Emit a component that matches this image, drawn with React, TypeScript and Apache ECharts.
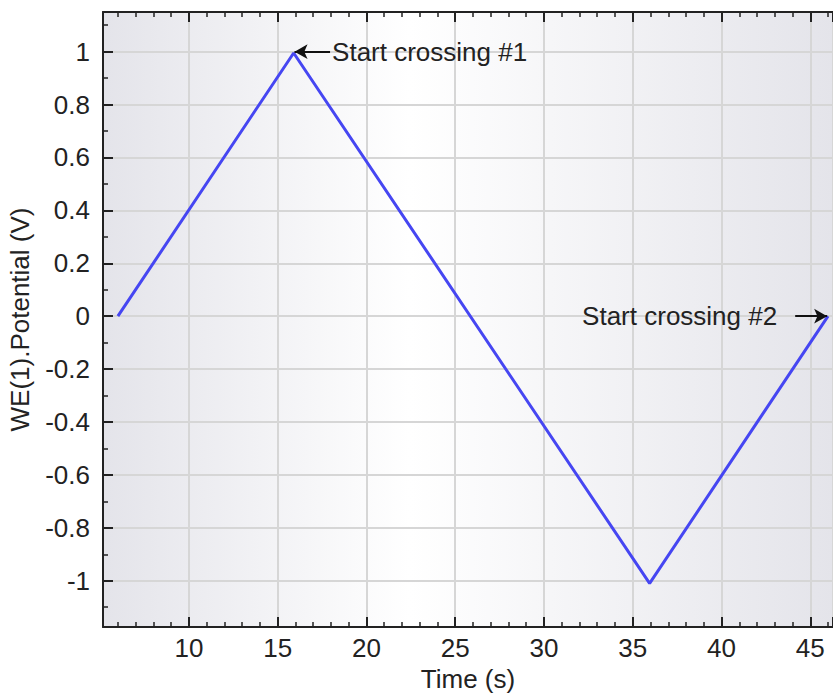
import React, { useEffect, useRef } from "react";
import * as echarts from "echarts";

const timeValues = [6, 15.9, 35.95, 46];
const potentialValues = [0, 0.995, -1.01, 0];
const xTitle = "Time (s)";
const yTitle = "WE(1).Potential (V)";
const note1 = "Start crossing #1";
const note2 = "Start crossing #2";
const note1Arrow = [[17.95, 1], [15.95, 1]];
const note2Arrow = [[44.15, 0], [45.95, 0]];

export default function App() {
  const ref = useRef<HTMLDivElement>(null);
  useEffect(() => {
    document.body.style.margin = "0";
    const chart = echarts.init(ref.current!, undefined, { renderer: "svg" });
    const font = "'Liberation Sans', Arial, sans-serif";
    const fs = 26;
    const axisCommon = {
      type: "value",
      axisLine: { show: true, onZero: false, lineStyle: { color: "#222", width: 2 } },
      axisTick: { show: true, inside: true, length: 10, lineStyle: { color: "#222", width: 2 } },
      minorTick: { show: true, length: 5, lineStyle: { color: "#222", width: 1.5 } },
      splitLine: { show: true, lineStyle: { color: "#d6d6d6", width: 2 } },
      axisLabel: {
        color: "#222",
        fontSize: fs,
        fontFamily: font,
        showMinLabel: false,
        showMaxLabel: false,
      },
    };
    const data = timeValues.map((t, i) => [t, potentialValues[i]]);
    chart.setOption({
      animation: false,
      backgroundColor: "#ffffff",
      textStyle: { fontFamily: font },
      grid: {
        left: 103,
        top: 12,
        right: 0,
        bottom: 66,
        outerBoundsMode: "none",
        containLabel: false,
        show: true,
        borderWidth: 0,
        backgroundColor: new echarts.graphic.LinearGradient(0, 0, 1, 0, [
          { offset: 0, color: "#e4e4ea" },
          { offset: 0.42, color: "#ffffff" },
          { offset: 1, color: "#e4e4ea" },
        ]),
      },
      xAxis: [
        {
          ...axisCommon,
          min: 5.16,
          max: 46.28,
          splitNumber: 8,
          minorTick: { ...axisCommon.minorTick, splitNumber: 5 },
          axisLabel: { ...axisCommon.axisLabel, margin: 8 },
          name: xTitle,
          nameLocation: "middle",
          nameGap: 37,
          nameTextStyle: { color: "#222", fontSize: fs, fontFamily: font },
        },
        {
          ...axisCommon,
          position: "top",
          min: 5.16,
          max: 46.28,
          splitNumber: 8,
          minorTick: { ...axisCommon.minorTick, splitNumber: 5 },
          axisLabel: { show: false },
          splitLine: { show: false },
        },
      ],
      yAxis: {
        ...axisCommon,
        min: -1.175,
        max: 1.15,
        splitNumber: 11,
        minorTick: { ...axisCommon.minorTick, splitNumber: 2 },
        axisLabel: { ...axisCommon.axisLabel, margin: 13 },
        name: yTitle,
        nameLocation: "middle",
        nameGap: 70,
        nameTextStyle: { color: "#222", fontSize: fs, fontFamily: font },
      },
      series: [
        {
          type: "line",
          data,
          symbol: "none",
          lineStyle: { color: "#4646f2", width: 3 },
          markLine: {
            silent: true,
            symbol: ["none", "arrow"],
            symbolSize: [11, 13],
            lineStyle: { color: "#111", width: 2, type: "solid" },
            label: {
              show: true,
              position: "start",
              color: "#222",
              fontSize: fs,
              fontFamily: font,
            },
            data: [
              [
                { coord: note1Arrow[0], label: { formatter: note1, distance: 2 } },
                { coord: note1Arrow[1] },
              ],
              [
                { coord: note2Arrow[0], label: { formatter: note2, distance: 18 } },
                { coord: note2Arrow[1] },
              ],
            ],
          },
        },
      ],
    });
    return () => chart.dispose();
  }, []);
  return <div ref={ref} style={{ width: 833, height: 693 }} />;
}
